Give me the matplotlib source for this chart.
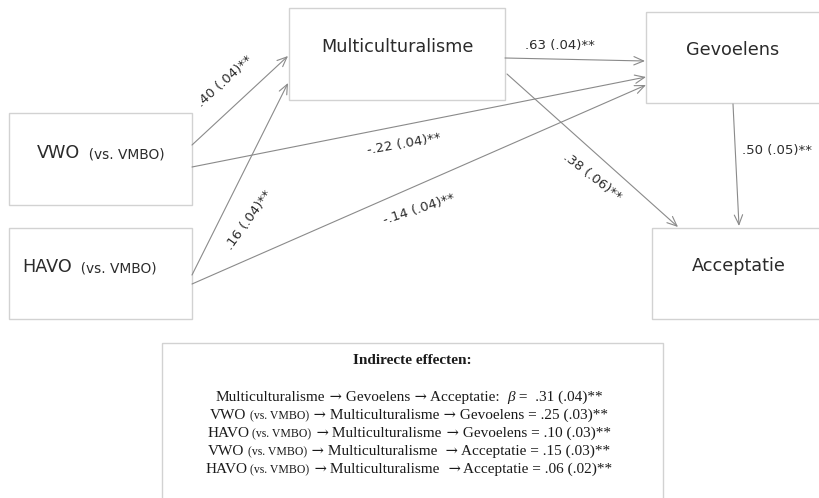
import matplotlib.pyplot as plt
from matplotlib.patches import Rectangle

# path model: coefficients (beta, se) per arrow
paths = ["VWO-Multi", "HAVO-Multi", "VWO-Gev", "HAVO-Gev", "Multi-Gev", "Multi-Acc", "Gev-Acc"]
beta = [0.40, 0.16, -0.22, -0.14, 0.63, 0.38, 0.50]
se = [0.04, 0.04, 0.04, 0.04, 0.04, 0.06, 0.05]

# indirect effects
indirect_beta = [0.31, 0.25, 0.10, 0.15, 0.06]
indirect_se = [0.04, 0.03, 0.03, 0.03, 0.02]

W, H = 819, 498
fig = plt.figure(figsize=(W / 100, H / 100), dpi=100)
ax = fig.add_axes([0, 0, 1, 1])
ax.set_xlim(0, W)
ax.set_ylim(H, 0)
ax.axis("off")
renderer = fig.canvas.get_renderer()

BOX_EDGE = "#d2d2d2"
LINE = "#8a8a8a"
TXT = "#2b2b2b"
SANS = "DejaVu Sans"
SERIF = ["Liberation Serif", "DejaVu Serif"]


def fmt(v):
    return f"{v:.2f}".replace("0.", ".", 1)


def coef(b, s):
    return f"{fmt(b)} ({fmt(s)})**"


def rich_text(pieces, x, y, family, color=TXT, center=True):
    # pieces: (string, fontsize, extra kwargs), laid out left to right on one baseline
    arts = []
    for s, size, kw in pieces:
        opts = dict(family=family, color=color)
        opts.update(kw)
        arts.append(ax.text(0, y, s, fontsize=size, va="baseline", ha="left", **opts))
    widths = [t.get_window_extent(renderer).width for t in arts]
    pos = x - sum(widths) / 2 if center else x
    for t, w in zip(arts, widths):
        t.set_x(pos)
        pos += w


# boxes (x0, y0, x1, y1) in pixels
boxes = {
    "Multi": (289, 8, 505, 100),
    "VWO": (9, 113, 192, 205),
    "HAVO": (9, 228, 192, 319),
    "Gev": (646, 12, 830, 103),
    "Acc": (652, 228, 830, 319),
}
for x0, y0, x1, y1 in boxes.values():
    ax.add_patch(Rectangle((x0, y0), x1 - x0, y1 - y0, fill=False,
                           ec=BOX_EDGE, lw=1.0))

ax.text(397, 47, "Multiculturalisme", fontsize=12.7, family=SANS, color=TXT,
        ha="center", va="center")
ax.text(733, 50, "Gevoelens", fontsize=12.7, family=SANS, color=TXT,
        ha="center", va="center")
ax.text(739, 266, "Acceptatie", fontsize=12.7, family=SANS, color=TXT,
        ha="center", va="center")
rich_text([("VWO", 12.7, {}), ("  (vs. VMBO)", 9.9, {})], 37, 158, SANS, center=False)
rich_text([("HAVO", 12.7, {}), ("  (vs. VMBO)", 9.9, {})], 22, 272, SANS, center=False)

# arrows: start, end, label position, label rotation
arrows = {
    "VWO-Multi": ((192, 145), (288, 56), (225, 81), 42),
    "HAVO-Multi": ((192, 275), (288, 83), (249, 220), 54),
    "VWO-Gev": ((192, 167), (646, 77), (404, 144), 10),
    "HAVO-Gev": ((192, 284), (646, 85), (419, 209), 18),
    "Multi-Gev": ((505, 58), (645, 61), (560, 45), 0),
    "Multi-Acc": ((507, 74), (678, 227), (592, 177), -38),
    "Gev-Acc": ((733, 104), (739, 226), (777, 150), 0),
}
for name, b, s in zip(paths, beta, se):
    start, end, lpos, rot = arrows[name]
    ax.annotate("", xy=end, xytext=start,
                arrowprops=dict(arrowstyle="->,head_length=0.7,head_width=0.3",
                                color=LINE, lw=0.8, shrinkA=0, shrinkB=0,
                                mutation_scale=10))
    ax.text(lpos[0], lpos[1], coef(b, s), fontsize=9.5, family=SANS, color=TXT,
            ha="center", va="center", rotation=rot, rotation_mode="anchor")

# indirect effects panel
INK = "#1a1a1a"
ax.add_patch(Rectangle((162, 343), 501, 200, fill=False, ec=BOX_EDGE, lw=1.0))
ax.text(412, 360, "Indirecte effecten:", fontsize=11, fontweight="bold",
        family=SERIF, color=INK, ha="center", va="center")

big, small = 11, 8.5
ARR = (" \u2192", 10.5, {"family": "DejaVu Serif"})


def word(s):
    return (s, big, {})


vs = (" (vs. VMBO)", small, {})
lines = [
    [word("Multiculturalisme"), ARR, word(" Gevoelens"), ARR, word(" Acceptatie:  "),
     ("\u03b2", big, {"fontstyle": "italic"}),
     word(" =  " + coef(indirect_beta[0], indirect_se[0]))],
    [word("VWO"), vs, ARR, word(" Multiculturalisme"), ARR,
     word(" Gevoelens = " + coef(indirect_beta[1], indirect_se[1]))],
    [word("HAVO"), vs, ARR, word(" Multiculturalisme"), ARR,
     word(" Gevoelens = " + coef(indirect_beta[2], indirect_se[2]))],
    [word("VWO"), vs, ARR, word(" Multiculturalisme "), ARR,
     word(" Acceptatie = " + coef(indirect_beta[3], indirect_se[3]))],
    [word("HAVO"), vs, ARR, word(" Multiculturalisme "), ARR,
     word(" Acceptatie = " + coef(indirect_beta[4], indirect_se[4]))],
]
for i, pieces in enumerate(lines):
    rich_text(pieces, 409, 401 + i * 18, SERIF, color=INK)

fig.savefig("out.png", dpi=100, facecolor="white")
